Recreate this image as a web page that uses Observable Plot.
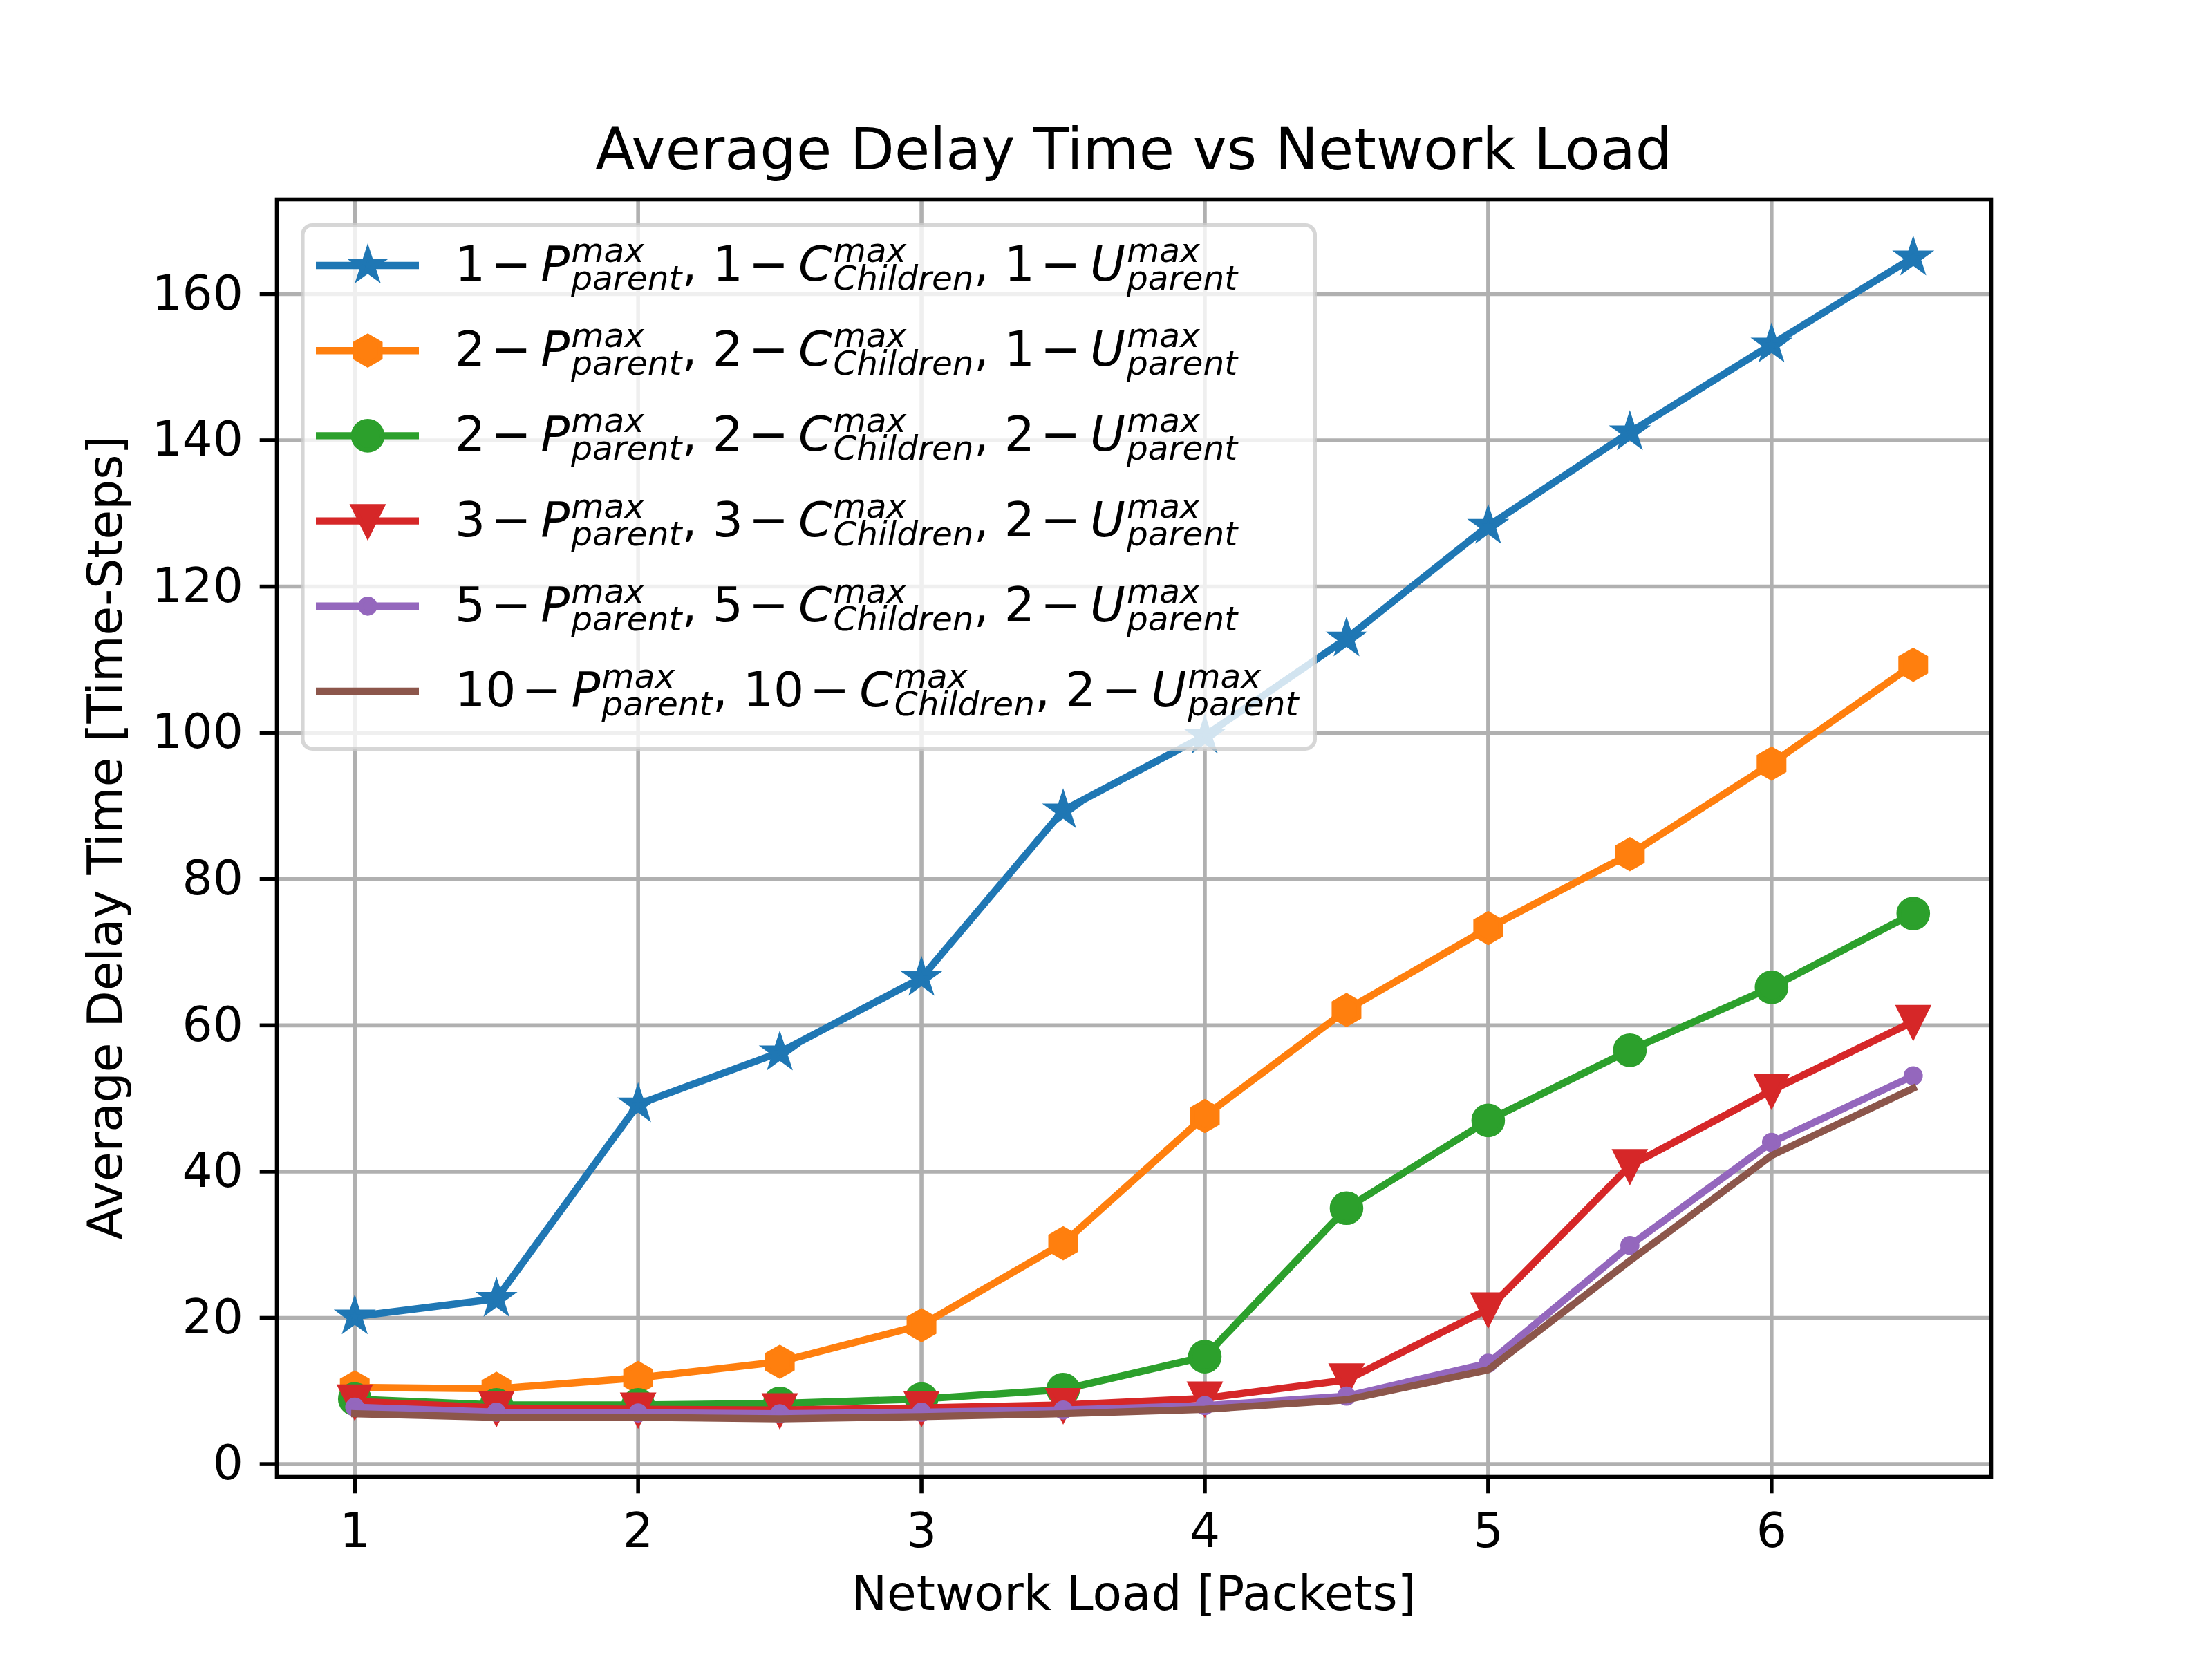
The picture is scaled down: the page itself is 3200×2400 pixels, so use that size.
<!DOCTYPE html>
<html><head><meta charset="utf-8">
<script src="https://cdn.jsdelivr.net/npm/d3@7"></script>
<script src="https://cdn.jsdelivr.net/npm/@observablehq/plot@0.6"></script>
<style>
body{margin:0;background:#fff}
#wrap{position:relative;width:3200px;height:2400px;font-family:"DejaVu Sans";color:#000;overflow:hidden}
#wrap svg.plot{position:absolute;left:0;top:0}
.txt{position:absolute;white-space:nowrap;line-height:1}
</style></head><body><div id="wrap"></div>
<script>
// ---- data ----
const loads = [1, 1.5, 2, 2.5, 3, 3.5, 4, 4.5, 5, 5.5, 6, 6.5];
const s1 = [20.2, 22.6, 49.2, 56.3, 66.5, 89.4, 99.6, 112.9, 128.3, 141.1, 153.1, 165.0];
const s2 = [10.5, 10.3, 11.8, 14.0, 19.0, 30.2, 47.6, 62.1, 73.3, 83.4, 95.8, 109.3];
const s3 = [8.9, 8.1, 8.1, 8.3, 8.9, 10.2, 14.7, 35.0, 47.0, 56.6, 65.2, 75.3];
const s4 = [8.6, 7.7, 7.5, 7.4, 7.7, 8.1, 9.0, 11.5, 21.2, 40.8, 51.1, 60.5];
const s5 = [7.8, 7.1, 7.0, 6.9, 7.1, 7.4, 8.0, 9.3, 13.8, 29.9, 44.0, 53.1];
const s6 = [6.9, 6.4, 6.4, 6.2, 6.5, 6.9, 7.5, 8.8, 12.9, 27.8, 42.2, 51.4];
const pMax = ["1", "2", "2", "3", "5", "10"];
const cMax = ["1", "2", "2", "3", "5", "10"];
const uMax = ["1", "1", "2", "2", "2", "2"];
const xTicks = [1, 2, 3, 4, 5, 6];
const yTicks = [0, 20, 40, 60, 80, 100, 120, 140, 160];
const titleText = "Average Delay Time vs Network Load";
const xLabel = "Network Load [Packets]";
const yLabel = "Average Delay Time [Time-Steps]";

// ---- styles ----
const colors = ["#1f77b4", "#ff7f0e", "#2ca02c", "#d62728", "#9467bd", "#8c564b"];
const mk = fn => ({draw(ctx, size){ const R = Math.sqrt(size / Math.PI); fn(ctx, R); }});
const starSym = mk((c, R) => { const ri = R * 0.381966; for (let i = 0; i < 10; i++) { const a = -Math.PI/2 + i*Math.PI/5; const r = i % 2 ? ri : R; const x = r*Math.cos(a), y = r*Math.sin(a); i ? c.lineTo(x, y) : c.moveTo(x, y); } c.closePath(); });
const hexSym = mk((c, R) => { for (let i = 0; i < 6; i++) { const a = -Math.PI/2 + i*Math.PI/3; const x = R*Math.cos(a), y = R*Math.sin(a); i ? c.lineTo(x, y) : c.moveTo(x, y); } c.closePath(); });
const circSym = mk((c, R) => { c.moveTo(R, 0); c.arc(0, 0, R, 0, 2*Math.PI); c.closePath(); });
const triSym = mk((c, R) => { c.moveTo(0, R); c.lineTo(-R, -R); c.lineTo(R, -R); c.closePath(); });
const ptSym = mk((c, R) => { const r = R*0.5; c.moveTo(r, 0); c.arc(0, 0, r, 0, 2*Math.PI); c.closePath(); });
const symbols = [starSym, hexSym, circSym, triSym, ptSym, null];

const allSeries = [s1, s2, s3, s4, s5, s6];
const series = allSeries.map((vals, k) => ({
  color: colors[k], symbol: symbols[k],
  data: loads.map((x, i) => ({x, y: vals[i]}))
}));

const R = 20.85, LW = 10.4, MEW = 6.9;
const allY = allSeries.flat();
const yMinD = d3.min(allY), yMaxD = d3.max(allY);
const yPad = (yMaxD - yMinD) * 0.05;
const xPad = (d3.max(loads) - d3.min(loads)) * 0.05;

const marks = [
  Plot.gridX(xTicks, {stroke: "#b0b0b0", strokeOpacity: 1, strokeWidth: 5.6}),
  Plot.gridY(yTicks, {stroke: "#b0b0b0", strokeOpacity: 1, strokeWidth: 5.6})
];
for (const s of series) {
  marks.push(Plot.line(s.data, {x: "x", y: "y", stroke: s.color, strokeWidth: LW, strokeLinejoin: "round", strokeLinecap: "square"}));
  if (s.symbol) marks.push(Plot.dot(s.data, {x: "x", y: "y", r: R, symbol: s.symbol, fill: s.color, stroke: s.color, strokeWidth: MEW}));
}
marks.push(Plot.frame({stroke: "black", strokeWidth: 5.6}));
marks.push(Plot.axisX(xTicks, {tickSize: 24.3, tickPadding: 28, strokeWidth: 5.6, label: null, fontSize: 69.4, tickFormat: d3.format("d")}));
marks.push(Plot.axisY(yTicks, {tickSize: 24.3, tickPadding: 24.3, strokeWidth: 5.6, label: null, fontSize: 69.4, tickFormat: d3.format("d")}));

const chart = Plot.plot({
  width: 3200, height: 2400,
  marginLeft: 400, marginRight: 320, marginTop: 288, marginBottom: 264,
  style: {fontFamily: "DejaVu Sans", fontSize: "69.4px", background: "transparent", color: "black"},
  x: {domain: [d3.min(loads) - xPad, d3.max(loads) + xPad]},
  y: {domain: [yMinD - yPad, yMaxD + yPad]},
  marks
});
chart.classList.add("plot");
const wrap = document.getElementById("wrap");
wrap.appendChild(chart);

// title & axis labels
const t = document.createElement("div");
t.className = "txt"; t.textContent = titleText;
Object.assign(t.style, {left: "400px", width: "2480px", textAlign: "center", top: "175px", fontSize: "83.3px"});
wrap.appendChild(t);
const xl = document.createElement("div");
xl.className = "txt"; xl.textContent = xLabel;
Object.assign(xl.style, {left: "400px", width: "2480px", textAlign: "center", top: "2271px", fontSize: "69.4px"});
wrap.appendChild(xl);
const yl = document.createElement("div");
yl.className = "txt"; yl.textContent = yLabel;
Object.assign(yl.style, {left: "153px", top: "1212px", fontSize: "69.4px", transform: "translate(-50%,-50%) rotate(-90deg)"});
wrap.appendChild(yl);

// legend drawn into the plot's svg
const svg = d3.select(chart);
const lg = svg.append("g").attr("font-family", "DejaVu Sans").attr("text-anchor", "start");
lg.append("rect").attr("x", 437.8).attr("y", 325.8).attr("width", 1464.4).attr("height", 757.4).attr("rx", 14)
  .attr("fill", "white").attr("fill-opacity", 0.8).attr("stroke", "#cccccc").attr("stroke-opacity", 0.8).attr("stroke-width", 5.6);
const MAIN = 69.4, SMALL = 48.6;
const tmp = lg.append("text").attr("font-size", SMALL).attr("font-style", "italic").text("max");
const wMax = tmp.node().getComputedTextLength();
tmp.remove();
for (let k = 0; k < 6; k++) {
  const cy = 384 + k * 123.2;
  lg.append("line").attr("x1", 457).attr("x2", 606).attr("y1", cy).attr("y2", cy)
    .attr("stroke", colors[k]).attr("stroke-width", LW);
  if (symbols[k]) {
    const p = d3.path(); symbols[k].draw(p, Math.PI * R * R);
    lg.append("path").attr("d", p.toString()).attr("transform", `translate(532,${cy})`)
      .attr("fill", colors[k]).attr("stroke", colors[k]).attr("stroke-width", MEW);
  }
  const tx = lg.append("text").attr("x", 658).attr("y", cy + 22).attr("font-size", MAIN).attr("fill", "black").attr("text-anchor", "start");
  const group = (num, letter, sub, last) => {
    tx.append("tspan").text(num);
    tx.append("tspan").attr("dx", 8).text("\u2212");
    tx.append("tspan").attr("dx", 14).attr("font-style", "italic").text(letter);
    tx.append("tspan").attr("dx", 2).attr("dy", -27).attr("font-size", SMALL).attr("font-style", "italic").text("max");
    tx.append("tspan").attr("dx", -wMax).attr("dy", 40).attr("font-size", SMALL).attr("font-style", "italic").text(sub);
    tx.append("tspan").attr("dy", -13).text(last ? "" : ",\u00A0");
  };
  group(pMax[k], "P", "parent", false);
  group(cMax[k], "C", "Children", false);
  group(uMax[k], "U", "parent", true);
}
</script></body></html>
